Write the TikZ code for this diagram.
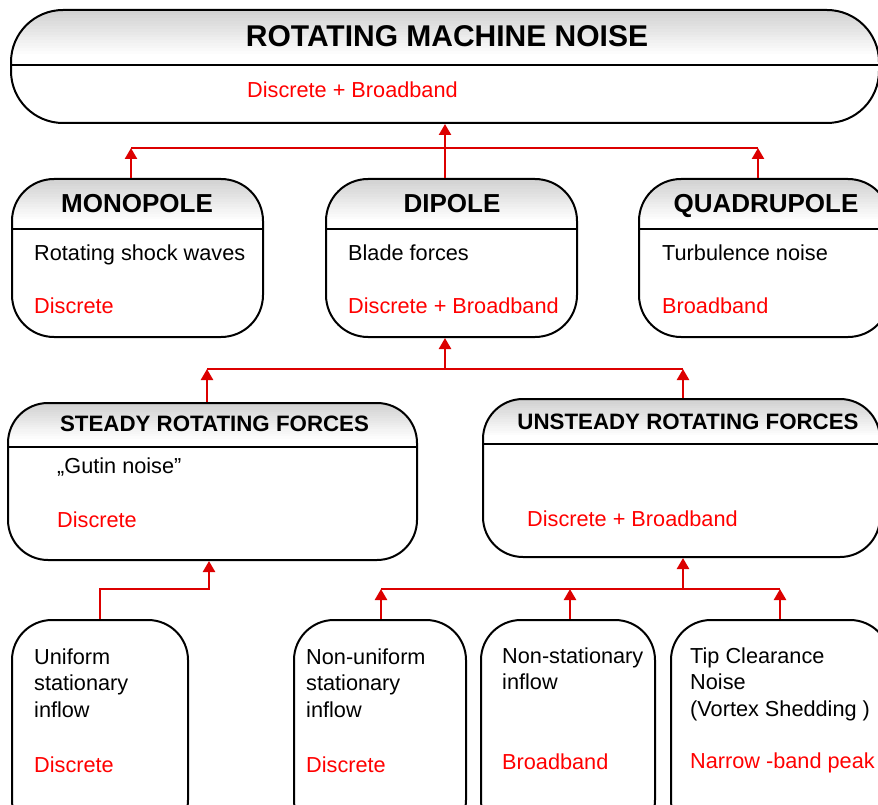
\documentclass[tikz,border=0pt]{standalone}
\usepackage{fontspec}
\setmainfont{Liberation Sans}
\usetikzlibrary{arrows.meta}
\definecolor{linkred}{RGB}{220,0,0}
\definecolor{textred}{RGB}{255,0,0}

\begin{document}
\begin{tikzpicture}[x=1pt,y=-1pt,
  box/.style={draw, line width=2pt, inner sep=0pt},
  % grey fade at the top of the box, then the rule under the heading
  head/.style={path picture={
    \foreach \k [evaluate=\k as \g using 18*(1-\k/16)] in {0,...,15}
      \fill[sharp corners, black!\g] ([yshift=-\k*0.05*#1]path picture bounding box.north west)
        rectangle ([yshift=-\k*0.05*#1-0.05*#1-0.4pt]path picture bounding box.north east);
    \draw[sharp corners, line width=2pt] ([yshift=-#1]path picture bounding box.north west)
      -- ([yshift=-#1]path picture bounding box.north east);}},
  wire/.style={draw=linkred, line width=2.4pt},
  link/.style={wire, -{Triangle[length=11pt,width=12pt]}},
  bigtitle/.style={anchor=base, inner sep=0pt, font=\bfseries\fontsize{30}{34}\selectfont},
  title/.style={anchor=base, inner sep=0pt, font=\bfseries\fontsize{26}{30}\selectfont},
  subtitle/.style={anchor=base, inner sep=0pt, font=\bfseries\fontsize{22.3}{26}\selectfont},
  body/.style={anchor=base west, inner sep=0pt, align=left, font=\fontsize{21.7}{26.5}\selectfont},
  kind/.style={body, text=textred}]

  \useasboundingbox (0,0) rectangle (878,805);
  \clip (0,0) rectangle (878,805);

  % top level
  \node[box, rounded corners=52pt, head=55pt, minimum width=868pt, minimum height=113pt] (rmn) at (445,66.5) {};
  \node[bigtitle] (rmn-title) at (447,47) {ROTATING MACHINE NOISE};
  \node[kind] (rmn-kind) at (247,98) {Discrete + Broadband};

  % source types
  \node[box, rounded corners=42pt, head=50pt, minimum width=251pt, minimum height=158pt] (mono) at (137.5,258) {};
  \node[box, rounded corners=42pt, head=50pt, minimum width=251pt, minimum height=158pt] (dip) at (451.5,258) {};
  \node[box, rounded corners=42pt, head=50pt, minimum width=251pt, minimum height=158pt] (quad) at (764.5,258) {};
  \node[title] (mono-title) at (137,213) {MONOPOLE};
  \node[title] (dip-title) at (452,213) {DIPOLE};
  \node[title] (quad-title) at (766,213) {QUADRUPOLE};
  \node[body] (mono-src) at (34,260) {Rotating shock waves};
  \node[kind] (mono-kind) at (34,313) {Discrete};
  \node[body] (dip-src) at (348,260) {Blade forces};
  \node[kind] (dip-kind) at (348,313) {Discrete + Broadband};
  \node[body] (quad-src) at (662,260) {Turbulence noise};
  \node[kind] (quad-kind) at (662,313) {Broadband};

  % blade forces
  \node[box, rounded corners=40pt, head=44pt, minimum width=409pt, minimum height=157pt] (steady) at (212.5,481.5) {};
  \node[box, rounded corners=40pt, head=45pt, minimum width=397pt, minimum height=158pt] (unsteady) at (681.5,478) {};
  \node[subtitle] (steady-title) at (214.5,431) {STEADY ROTATING FORCES};
  \node[subtitle] (unsteady-title) at (688,429) {UNSTEADY ROTATING FORCES};
  \node[body] (steady-src) at (57,473) {„Gutin noise”};
  \node[kind] (steady-kind) at (57,527) {Discrete};
  \node[kind] (unsteady-kind) at (527,526) {Discrete + Broadband};

  % inflow conditions (multi-line texts sit on their last baseline)
  \node[box, rounded corners=40pt, minimum width=176pt, minimum height=220pt] (unif) at (100,730) {};
  \node[box, rounded corners=40pt, minimum width=172pt, minimum height=220pt] (nonunif) at (380,730) {};
  \node[box, rounded corners=40pt, minimum width=174pt, minimum height=220pt] (nonstat) at (568,730) {};
  \node[box, rounded corners=40pt, minimum width=219pt, minimum height=220pt] (tipc) at (780.5,730) {};
  \node[body] (unif-src) at (34,717) {Uniform\\stationary\\inflow};
  \node[kind] (unif-kind) at (34,772) {Discrete};
  \node[body] (nonunif-src) at (306,717) {Non-uniform\\stationary\\inflow};
  \node[kind] (nonunif-kind) at (306,772) {Discrete};
  \node[body] (nonstat-src) at (502,689.5) {Non-stationary\\inflow};
  \node[kind] (nonstat-kind) at (502,769) {Broadband};
  \node[body] (tipc-src) at (690,716) {Tip Clearance\\Noise\\(Vortex Shedding )};
  \node[kind] (tipc-kind) at (690,768) {Narrow -band peak};

  % connectors
  \coordinate (bus1) at (445,148);
  \coordinate (bus1m) at (131,148);
  \coordinate (bus1q) at (758,148);
  \draw[wire] (bus1m) -- (bus1q);
  \draw[link] (bus1m |- mono.north) -- (bus1m);
  \draw[link] (bus1q |- quad.north) -- (bus1q);
  \draw[link] (bus1 |- dip.north) -- (bus1 |- rmn.south);

  \coordinate (bus2) at (445,369);
  \coordinate (bus2s) at (207,369);
  \coordinate (bus2u) at (683,369);
  \draw[wire] (bus2s) -- (bus2u);
  \draw[link] (bus2s |- steady.north) -- (bus2s);
  \draw[link] (bus2u |- unsteady.north) -- (bus2u);
  \draw[link] (bus2) -- (bus2 |- dip.south);

  \coordinate (bend) at (209,589);
  \draw[link] (unif.north) |- (bend) -- (bend |- steady.south);

  \coordinate (bus3) at (683,589);
  \coordinate (bus3a) at (381,589);
  \coordinate (bus3b) at (570,589);
  \coordinate (bus3c) at (780,589);
  \draw[wire] (bus3a) -- (bus3c);
  \draw[link] (bus3a |- nonunif.north) -- (bus3a);
  \draw[link] (bus3b |- nonstat.north) -- (bus3b);
  \draw[link] (bus3c |- tipc.north) -- (bus3c);
  \draw[link] (bus3) -- (bus3 |- unsteady.south);
\end{tikzpicture}
\end{document}
